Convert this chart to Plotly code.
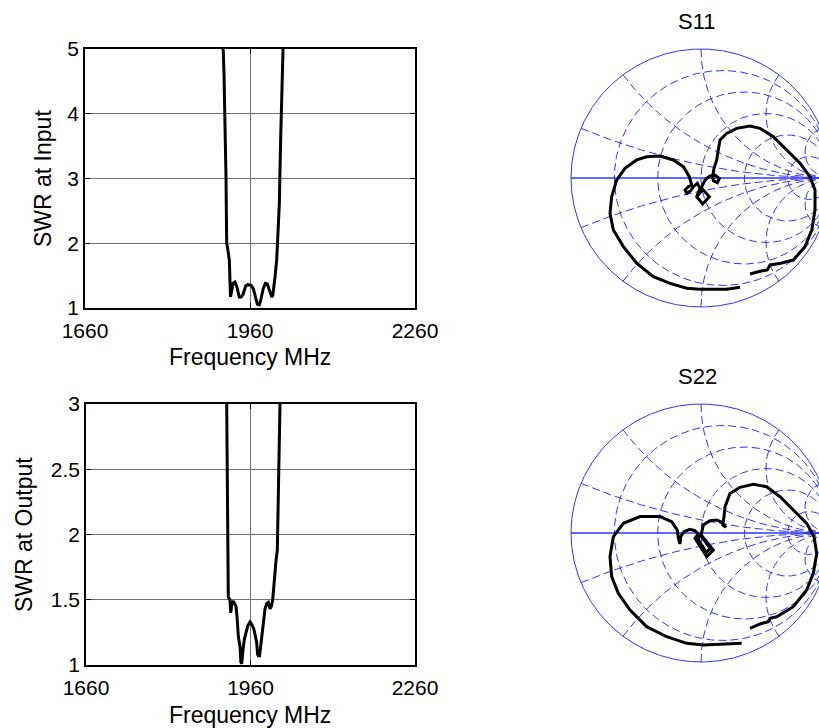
import numpy as np
import plotly.graph_objects as go

W, H = 819, 728

# ---------------- data ----------------
freq_in = [1909, 1911.5, 1912.7, 1914.5, 1916.4, 1917.6, 1918.8, 1922.4, 1923.6, 1924.5, 1926.5,
           1929, 1932.7, 1936, 1940.5, 1944, 1947.8, 1952, 1956, 1962, 1966, 1970, 1973.3,
           1976.9, 1979.5, 1984, 1988, 1991.5, 1996.4, 1999.5, 2001.5, 2003.6, 2005.5, 2008.5,
           2011.5, 2013.3, 2015.7, 2017.6, 2019.5, 2021]
swr_in = [5.2, 4.95, 4.62, 4.0, 3.0, 2.0, 1.95, 1.74, 1.40, 1.17, 1.25,
          1.38, 1.40, 1.33, 1.17, 1.17, 1.22, 1.34, 1.36, 1.35, 1.30, 1.18, 1.06,
          1.05, 1.12, 1.30, 1.38, 1.37, 1.25, 1.17, 1.20, 1.33, 1.48, 1.74,
          2.3, 2.6, 3.6, 4.55, 4.95, 5.3]

freq_out = [1916.4, 1916.6, 1917.5, 1919.5, 1922.6, 1923.9, 1926, 1928.7, 1931, 1933.6, 1936,
            1937.8, 1940.9, 1942.5, 1944, 1945.5, 1946.9, 1949, 1951.8, 1955, 1959.1, 1962.5,
            1966.4, 1969, 1971.3, 1973, 1974.2, 1976.5, 1978.6, 1981, 1983.4, 1986.5, 1989.6,
            1992.5, 1995.6, 1998, 2000.5, 2002.9, 2005, 2006.5, 2008.9, 2010.7, 2012.5, 2013.8, 2014.5]
swr_out = [3.1, 3.0, 2.2, 1.52, 1.50, 1.40, 1.47, 1.49, 1.47, 1.45, 1.34,
           1.22, 1.14, 1.02, 1.01, 1.10, 1.14, 1.20, 1.24, 1.30, 1.33, 1.31,
           1.27, 1.22, 1.17, 1.08, 1.07, 1.07, 1.14, 1.25, 1.34, 1.43, 1.47,
           1.48, 1.43, 1.45, 1.50, 1.63, 1.72, 1.80, 1.88, 2.42, 2.75, 3.0, 3.1]

freq_ticks = [1660, 1960, 2260]
swr_in_ticks = [1, 2, 3, 4, 5]
swr_out_ticks = [1, 1.5, 2, 2.5, 3]

s11_re = [0.30, 0.197, 0.095, -0.008, -0.110, -0.238, -0.367, -0.495, -0.597, -0.674, -0.700,
          -0.687, -0.649, -0.585, -0.495, -0.418, -0.315, -0.213, -0.136, -0.090, -0.072,
          -0.098, -0.123, -0.110, -0.079, -0.059, -0.028, -0.008, -0.033, 0.013, 0.064, 0.013,
          -0.028, 0.005, 0.031, 0.069, 0.108, 0.141, 0.126, 0.095, 0.090, 0.100, 0.121, 0.133,
          0.146, 0.197, 0.274, 0.377, 0.454, 0.556, 0.659, 0.762, 0.838, 0.877, 0.877, 0.852,
          0.800, 0.710, 0.613, 0.531, 0.510, 0.454, 0.377]
s11_im = [-0.847, -0.863, -0.863, -0.863, -0.855, -0.817, -0.765, -0.661, -0.532, -0.403, -0.274,
          -0.145, -0.016, 0.075, 0.140, 0.165, 0.171, 0.140, 0.088, 0.010, -0.054,
          -0.067, -0.093, -0.119, -0.098, -0.067, -0.041, -0.080, -0.145, -0.202, -0.145, -0.088,
          -0.140, -0.067, -0.016, 0.016, 0.023, -0.003, -0.036, -0.021, 0.016, 0.075, 0.140, 0.217,
          0.295, 0.346, 0.385, 0.403, 0.385, 0.320, 0.217, 0.114, 0.010, -0.093, -0.248, -0.403,
          -0.532, -0.636, -0.661, -0.674, -0.713, -0.723, -0.744]

s22_re = [0.313, 0.197, 0.121, 0.018, -0.110, -0.264, -0.418, -0.546, -0.636, -0.687, -0.700,
          -0.674, -0.597, -0.469, -0.315, -0.226, -0.182, -0.174, -0.162, -0.156, -0.131,
          -0.085, -0.046, -0.021, -0.046, 0.044, 0.095, -0.008, -0.020, 0.040, 0.070, 0.000,
          0.018, 0.069, 0.121, 0.167, 0.192, 0.167, 0.177, 0.185, 0.223, 0.300, 0.403, 0.505,
          0.608, 0.710, 0.813, 0.869, 0.890, 0.864, 0.813, 0.710, 0.582, 0.531, 0.518, 0.454, 0.377]
s22_im = [-0.855, -0.860, -0.860, -0.868, -0.855, -0.804, -0.726, -0.597, -0.468, -0.338, -0.183,
          -0.028, 0.075, 0.127, 0.127, 0.088, 0.023, -0.041, -0.085, -0.028, 0.010,
          0.028, 0.018, -0.008, -0.041, -0.183, -0.132, -0.003, -0.050, -0.150, -0.120, -0.020,
          0.062, 0.095, 0.101, 0.080, 0.044, 0.062, 0.127, 0.204, 0.307, 0.354, 0.377, 0.359,
          0.281, 0.178, 0.075, -0.028, -0.158, -0.312, -0.442, -0.571, -0.649, -0.661, -0.688,
          -0.705, -0.739]

smith_r = [0.2, 0.5, 1, 2, 5]
smith_x = [0.2, 0.5, 1, 2, 5]

# ---------------- helpers ----------------
FONT = "Liberation Sans, Arial, sans-serif"
BLUE = "rgb(50,50,255)"


def dx(a, b):
    return [a / W, b / W]


def dy(top, bottom):
    return [(H - bottom) / H, (H - top) / H]


def smith_grid():
    gx, gy = [], []
    t = np.linspace(0, 2 * np.pi, 361)
    for r in smith_r:
        c, R = r / (1 + r), 1 / (1 + r)
        gx += list(c + R * np.cos(t)) + [None]
        gy += list(R * np.sin(t)) + [None]
    rr = np.concatenate([[0.0], np.logspace(-2.5, 3, 300)])
    for x in smith_x:
        for s in (1, -1):
            z = rr + 1j * s * x
            g = (z - 1) / (z + 1)
            gx += list(g.real) + [None]
            gy += list(g.imag) + [None]
    return gx, gy


fig = go.Figure()

# SWR plots
fig.add_trace(go.Scatter(x=freq_in, y=swr_in, mode="lines", xaxis="x", yaxis="y",
                         line=dict(color="black", width=3), showlegend=False))
fig.add_trace(go.Scatter(x=freq_out, y=swr_out, mode="lines", xaxis="x2", yaxis="y2",
                         line=dict(color="black", width=3), showlegend=False))

# Smith charts
gx, gy = smith_grid()
tt = np.linspace(0, 2 * np.pi, 721)
for xa, ya, re, im in (("x3", "y3", s11_re, s11_im), ("x4", "y4", s22_re, s22_im)):
    fig.add_trace(go.Scatter(x=gx, y=gy, mode="lines", xaxis=xa, yaxis=ya,
                             line=dict(color=BLUE, width=1, dash="8px,4px"),
                             showlegend=False, hoverinfo="skip"))
    fig.add_trace(go.Scatter(x=np.cos(tt), y=np.sin(tt), mode="lines", xaxis=xa, yaxis=ya,
                             line=dict(color=BLUE, width=1), showlegend=False, hoverinfo="skip"))
    fig.add_trace(go.Scatter(x=[-1, 1], y=[0, 0], mode="lines", xaxis=xa, yaxis=ya,
                             line=dict(color=BLUE, width=1.5), showlegend=False, hoverinfo="skip"))
    fig.add_trace(go.Scatter(x=re, y=im, mode="lines", xaxis=xa, yaxis=ya,
                             line=dict(color="black", width=3), showlegend=False))

common_x = dict(range=[1660, 2260], tickvals=freq_ticks, ticktext=[str(v) for v in freq_ticks],
                showgrid=True, gridcolor="#707070", gridwidth=1, zeroline=False,
                showline=True, linecolor="black", linewidth=1.5, mirror="ticks",
                ticks="inside", ticklen=5, tickcolor="black", automargin=False,
                ticklabelstandoff=3,
                tickfont=dict(family=FONT, size=21, color="black"))
common_y = dict(showgrid=True, gridcolor="#707070", gridwidth=1, zeroline=False,
                showline=True, linecolor="black", linewidth=1.5, mirror="ticks",
                ticks="inside", ticklen=5, tickcolor="black", automargin=False,
                tickfont=dict(family=FONT, size=21, color="black"))

smith_ax = dict(showgrid=False, zeroline=False, showline=False, showticklabels=False, ticks="",
                automargin=False)

fig.update_layout(
    width=W, height=H, autosize=False,
    margin=dict(l=0, r=0, t=0, b=0, pad=0, autoexpand=False),
    paper_bgcolor="white", plot_bgcolor="white",
    xaxis=dict(domain=dx(85, 415), anchor="y", **common_x),
    yaxis=dict(domain=dy(49, 308), anchor="x", range=[1, 5], tickvals=swr_in_ticks,
               ticktext=[str(v) for v in swr_in_ticks], **common_y),
    xaxis2=dict(domain=dx(86, 415), anchor="y2", **common_x),
    yaxis2=dict(domain=dy(404, 665), anchor="x2", range=[1, 3], tickvals=swr_out_ticks,
                ticktext=["1", "1.5", "2", "2.5", "3"], **common_y),
    xaxis3=dict(domain=dx(560, 819), anchor="y3", range=[(560 - 701) / 130, (819 - 701) / 130], **smith_ax),
    yaxis3=dict(domain=dy(40, 316), anchor="x3", range=[-138 / 129, 138 / 129], **smith_ax),
    xaxis4=dict(domain=dx(560, 819), anchor="y4", range=[(560 - 701) / 130, (819 - 701) / 130], **smith_ax),
    yaxis4=dict(domain=dy(395, 671), anchor="x4", range=[-138 / 129, 138 / 129], **smith_ax),
    font=dict(family=FONT, color="black"),
)

ann = [
    dict(text="SWR at Input", x=43, y=179, rot=-90, size=23),
    dict(text="Frequency MHz", x=250, y=357, rot=0, size=23),
    dict(text="SWR at Output", x=24, y=535, rot=-90, size=23),
    dict(text="Frequency MHz", x=250, y=715, rot=0, size=23),
    dict(text="S11", x=697, y=21, rot=0, size=22),
    dict(text="S22", x=697, y=377, rot=0, size=22),
]
for a in ann:
    fig.add_annotation(text=a["text"], x=a["x"] / W, y=(H - a["y"]) / H, xref="paper", yref="paper",
                       showarrow=False, textangle=a["rot"], xanchor="center", yanchor="middle",
                       font=dict(family=FONT, size=a["size"], color="black"))

fig.write_html("out.html", config={"displayModeBar": False},
               post_script="document.body.style.margin='0px';document.body.style.overflow='hidden';")
